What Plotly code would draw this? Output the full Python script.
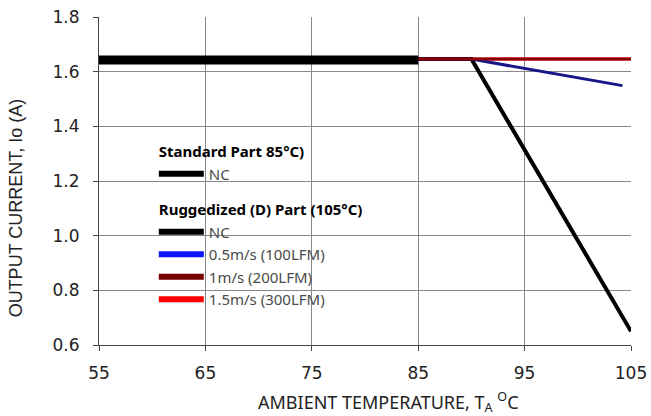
import plotly.graph_objects as go

# Data
std_nc_x = [55, 85]
std_nc_y = [1.643, 1.643]

rug_nc_x = [55, 90, 105]
rug_nc_y = [1.646, 1.646, 0.65]

rug_05_x = [55, 90, 104.2]
rug_05_y = [1.646, 1.646, 1.549]

rug_1_x = [55, 105]
rug_1_y = [1.646, 1.646]

rug_15_x = [55, 105]
rug_15_y = [1.646, 1.646]

x_ticks = [55, 65, 75, 85, 95, 105]
y_ticks = [0.6, 0.8, 1.0, 1.2, 1.4, 1.6, 1.8]

fig = go.Figure()

# plotted curves (no legend)
fig.add_trace(go.Scatter(x=rug_15_x, y=rug_15_y, mode="lines",
                         line=dict(color="#ff0000", width=3), showlegend=False))
fig.add_trace(go.Scatter(x=rug_nc_x, y=rug_nc_y, mode="lines",
                         line=dict(color="#000000", width=4), showlegend=False))
fig.add_trace(go.Scatter(x=rug_05_x, y=rug_05_y, mode="lines",
                         line=dict(color="#16168a", width=3), showlegend=False))
fig.add_trace(go.Scatter(x=rug_1_x, y=rug_1_y, mode="lines",
                         line=dict(color="#8b0000", width=3), showlegend=False))
fig.add_trace(go.Scatter(x=std_nc_x, y=std_nc_y, mode="lines",
                         line=dict(color="#000000", width=9), showlegend=False))

# legend entries
std_title = "<b>Standard Part 85°C)</b>"
rug_title = "<b>Ruggedized (D) Part (105°C)</b>"
legend_items = [
    ("std", std_title, "NC", "#000000"),
    ("rug", rug_title, "NC", "#000000"),
    ("rug", rug_title, "0.5m/s (100LFM)", "#0a14ff"),
    ("rug", rug_title, "1m/s (200LFM)", "#7a0000"),
    ("rug", rug_title, "1.5m/s (300LFM)", "#ff0000"),
]
for grp, gtitle, name, col in legend_items:
    fig.add_trace(go.Scatter(x=[None], y=[None], mode="lines", name=name,
                             legendgroup=grp,
                             legendgrouptitle=dict(text=gtitle,
                                                   font=dict(size=15, color="#000000", family="Noto Sans")),
                             line=dict(color=col, width=6), showlegend=True))

fig.update_layout(
    width=651, height=416,
    margin=dict(l=99, r=20, t=17, b=71),
    paper_bgcolor="white", plot_bgcolor="white",
    showlegend=True,
    legend=dict(x=0.103, y=0.64, xanchor="left", yanchor="top",
                bgcolor="rgba(0,0,0,0)", traceorder="grouped",
                tracegroupgap=13, itemwidth=45,
                font=dict(size=15, color="#4a4a4a", family="Noto Sans")),
    xaxis=dict(range=[55, 105], tickvals=x_ticks, ticktext=[str(v) for v in x_ticks],
               showgrid=True, gridcolor="#888888", gridwidth=1,
               showline=True, linecolor="#444444", linewidth=1,
               ticks="outside", ticklen=5, tickcolor="#444444",
               ticklabelstandoff=8,
               tickfont=dict(family="DejaVu Sans", size=17, color="#222222"),
               automargin=False, zeroline=False),
    yaxis=dict(range=[0.6, 1.8], tickvals=y_ticks, ticktext=[f"{v:.1f}" for v in y_ticks],
               showgrid=True, gridcolor="#888888", gridwidth=1,
               showline=True, linecolor="#444444", linewidth=1,
               ticks="outside", ticklen=5, tickcolor="#444444",
               ticklabelstandoff=10,
               tickfont=dict(family="DejaVu Sans", size=17, color="#222222"),
               automargin=False, zeroline=False),
    annotations=[
        dict(text="AMBIENT TEMPERATURE, T<sub>A</sub> <sup>O</sup>C",
             xref="paper", yref="paper", x=0.545, y=-0.175,
             xanchor="center", yanchor="middle", showarrow=False,
             font=dict(family="Noto Sans", size=18, color="#222222")),
        dict(text="OUTPUT CURRENT, Io (A)",
             xref="paper", yref="paper", x=-0.157, y=0.418, textangle=-90,
             xanchor="center", yanchor="middle", showarrow=False,
             font=dict(family="Liberation Sans", size=18, color="#222222")),
    ],
)

fig.write_html("out.html", config={"displayModeBar": False},
               post_script="document.body.style.margin='0';")
